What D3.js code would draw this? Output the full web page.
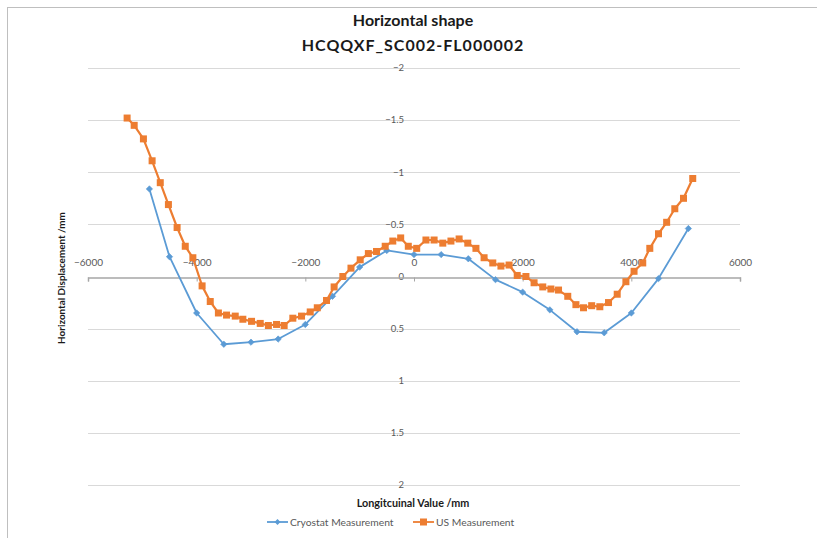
<!DOCTYPE html>
<html>
<head>
<meta charset="utf-8">
<script src="https://cdn.jsdelivr.net/npm/d3@7"></script>
<style>
  html, body { margin: 0; padding: 0; background: #ffffff; }
  svg { display: block; }
  text { font-family: Lato, "Open Sans", sans-serif; }
</style>
</head>
<body>
<svg id="chart" width="817" height="538"></svg>
<script>
// Cryostat measurement: longitudinal position (mm) and horizontal displacement (mm)
const cryoX = [-4870, -4500, -4000, -3500, -3000, -2500, -2000, -1500, -1000, -500,
               0, 500, 1000, 1500, 2000, 2500, 3000, 3500, 4000, 4500, 5050];
const cryoY = [-0.84, -0.19, 0.35, 0.65, 0.63, 0.60, 0.46, 0.19, -0.09, -0.25,
               -0.21, -0.21, -0.17, 0.03, 0.15, 0.32, 0.53, 0.54, 0.35, 0.02, -0.46];

// US measurement: longitudinal position (mm) and horizontal displacement (mm)
const usX = [-5280, -5150, -4980, -4820, -4670, -4520, -4360, -4210, -4070, -3900,
             -3750, -3600, -3450, -3290, -3150, -2990, -2830, -2680, -2530, -2390,
             -2230, -2070, -1910, -1780, -1610, -1470, -1310, -1160, -990, -840,
             -690, -530, -390, -245, -105, 50, 220, 370, 530, 680,
             830, 990, 1140, 1290, 1450, 1600, 1750, 1900, 2060, 2210,
             2370, 2520, 2660, 2830, 2980, 3120, 3270, 3420, 3580, 3740,
             3900, 4050, 4210, 4340, 4500, 4650, 4800, 4960, 5130];
const usY = [-1.52, -1.45, -1.32, -1.11, -0.90, -0.69, -0.47, -0.29, -0.18, 0.09,
             0.24, 0.35, 0.37, 0.38, 0.41, 0.43, 0.45, 0.47, 0.46, 0.47,
             0.40, 0.38, 0.34, 0.30, 0.23, 0.10, 0.00, -0.08, -0.16, -0.22,
             -0.24, -0.29, -0.34, -0.37, -0.29, -0.27, -0.35, -0.35, -0.32, -0.34,
             -0.36, -0.32, -0.27, -0.18, -0.13, -0.10, -0.11, -0.01, 0.00, 0.06,
             0.10, 0.12, 0.13, 0.19, 0.27, 0.30, 0.28, 0.29, 0.25, 0.17,
             0.05, -0.05, -0.13, -0.27, -0.41, -0.52, -0.65, -0.75, -0.94];

const xTicks = [-6000, -4000, -2000, 0, 2000, 4000, 6000];
const yTicks = [-2, -1.5, -1, -0.5, 0, 0.5, 1, 1.5, 2];
const seriesNames = ["Cryostat Measurement", "US Measurement"];
const titleLines = ["Horizontal shape", "HCQQXF_SC002-FL000002"];
const xTitle = "Longitcuinal Value /mm";
const yTitle = "Horizontal Displacement /mm";

const blue = "#5b9bd5";
const orange = "#ed7d31";
const labelColor = "#595959";

const svg = d3.select("#chart");

// chart frame
svg.append("rect")
  .attr("x", 7.5).attr("y", 7.5)
  .attr("width", 900).attr("height", 700)
  .attr("fill", "#ffffff")
  .attr("stroke", "#bfbfbf").attr("stroke-width", 1);

const x = d3.scaleLinear().domain([-6000, 6000]).range([88, 740]);
const y = d3.scaleLinear().domain([-2, 2]).range([68, 485]);

// horizontal gridlines
svg.append("g").selectAll("line")
  .data(yTicks.filter(d => d !== 0))
  .join("line")
  .attr("x1", x(-6000)).attr("x2", x(6000))
  .attr("y1", d => Math.round(y(d)) + 0.5).attr("y2", d => Math.round(y(d)) + 0.5)
  .attr("stroke", "#d9d9d9").attr("stroke-width", 1.2);

// y tick labels, placed along the x = 0 line
svg.append("g").selectAll("text")
  .data(yTicks)
  .join("text")
  .attr("x", x(0) - 10)
  .attr("y", d => y(d))
  .attr("dy", "0.35em")
  .attr("text-anchor", "end")
  .attr("font-size", 9.5)
  .attr("fill", labelColor)
  .text(d => d3.format("")(d));

// x axis crossing at y = 0, labels sit above the line
const xAxis = d3.axisBottom(x)
  .tickValues(xTicks)
  .tickSize(4)
  .tickFormat(d3.format(""));
const gx = svg.append("g")
  .attr("transform", `translate(0,${Math.round(y(0)) + 0.5})`)
  .call(xAxis);
gx.select(".domain").attr("stroke", "#a6a6a6").attr("stroke-width", 1.5);
gx.selectAll(".tick line").attr("stroke", "#a6a6a6");
gx.selectAll(".tick text")
  .attr("y", -12).attr("dy", "0")
  .attr("font-family", "Lato, sans-serif")
  .attr("font-size", 10)
  .attr("fill", labelColor);

// series
const cryo = cryoX.map((v, i) => ({ x: v, y: cryoY[i] }));
const us = usX.map((v, i) => ({ x: v, y: usY[i] }));
const line = d3.line().x(d => x(d.x)).y(d => y(d.y));

svg.append("path").datum(cryo)
  .attr("d", line).attr("fill", "none")
  .attr("stroke", blue).attr("stroke-width", 1.8)
  .attr("stroke-linejoin", "round");
svg.append("g").selectAll("path")
  .data(cryo).join("path")
  .attr("d", d3.symbol(d3.symbolDiamond2, 26))
  .attr("transform", d => `translate(${x(d.x)},${y(d.y)})`)
  .attr("fill", blue).attr("stroke", blue).attr("stroke-width", 0.6);

svg.append("path").datum(us)
  .attr("d", line).attr("fill", "none")
  .attr("stroke", orange).attr("stroke-width", 2.2)
  .attr("stroke-linejoin", "round");
svg.append("g").selectAll("rect")
  .data(us).join("rect")
  .attr("x", d => x(d.x) - 3.5).attr("y", d => y(d.y) - 3.5)
  .attr("width", 7).attr("height", 7)
  .attr("fill", orange);

// titles
svg.append("g").selectAll("text")
  .data(titleLines).join("text")
  .attr("x", 413)
  .attr("y", (d, i) => 26 + i * 25)
  .attr("text-anchor", "middle")
  .attr("font-size", 16)
  .attr("font-weight", "bold")
  .attr("letter-spacing", (d, i) => i === 1 ? 1 : 0)
  .attr("fill", "#1a1a1a")
  .text(d => d);

svg.append("text")
  .attr("x", 413).attr("y", 507)
  .attr("text-anchor", "middle")
  .attr("font-size", 10.8).attr("font-weight", "bold")
  .attr("fill", "#1a1a1a")
  .text(xTitle);

svg.append("text")
  .attr("transform", "translate(65,278) rotate(-90)")
  .attr("text-anchor", "middle")
  .attr("font-size", 9.9).attr("font-weight", "bold")
  .attr("fill", "#1a1a1a")
  .text(yTitle);

// legend
const legend = svg.append("g").attr("transform", "translate(0,522)");
const items = [
  { name: seriesNames[0], color: blue, x0: 267, kind: "diamond" },
  { name: seriesNames[1], color: orange, x0: 413, kind: "square" }
];
items.forEach(it => {
  legend.append("line")
    .attr("x1", it.x0).attr("x2", it.x0 + 21)
    .attr("y1", 0).attr("y2", 0)
    .attr("stroke", it.color).attr("stroke-width", 1.8);
  if (it.kind === "diamond") {
    legend.append("path")
      .attr("d", d3.symbol(d3.symbolDiamond2, 22))
      .attr("transform", `translate(${it.x0 + 10.5},0)`)
      .attr("fill", it.color);
  } else {
    legend.append("rect")
      .attr("x", it.x0 + 7).attr("y", -3.5)
      .attr("width", 7).attr("height", 7)
      .attr("fill", it.color);
  }
  legend.append("text")
    .attr("x", it.x0 + 23).attr("y", 0)
    .attr("dy", "0.35em")
    .attr("font-size", 10.3)
    .attr("fill", labelColor)
    .text(it.name);
});
</script>
</body>
</html>
